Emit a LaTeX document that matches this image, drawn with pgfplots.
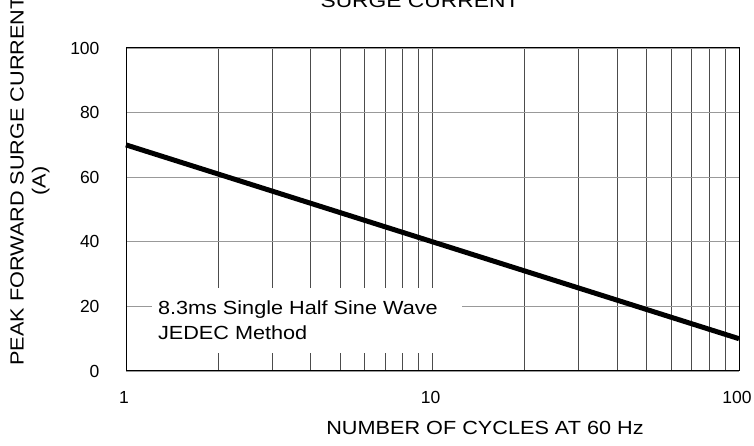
\documentclass[border=0pt]{standalone}
\usepackage{pgfplots}
\pgfplotsset{compat=1.18}
\usepackage{fontspec}
\setmainfont{Liberation Sans}
\newfontfamily\labelfont[FakeStretch=1.14]{Liberation Sans}
\newfontfamily\titlefont[FakeStretch=1.2]{Liberation Sans}

\begin{document}
\begin{tikzpicture}[font=\fontsize{17.5}{21}\selectfont]
\begin{axis}[
    scale only axis,
    width=613pt, height=323pt,
    xmode=log,
    xmin=1, xmax=100,
    ymin=0, ymax=100,
    xtick={1,10,100},
    xticklabels={1,10,100},
    minor xtick={2,3,4,5,6,7,8,9,20,30,40,50,60,70,80,90},
    ytick={0,20,40,60,80,100},
    major tick length=0pt,
    minor tick length=0pt,
    grid=both,
    xmajorgrids, xminorgrids, ymajorgrids,
    x grid style={black!70, line width=0.8pt},
    minor x grid style={black!70, line width=0.8pt},
    y grid style={black!40, line width=0.9pt},
    axis line style={black, line width=1pt},
    /pgf/number format/assume math mode=true,
    ticklabel style={font=\fontsize{17.5}{21}\selectfont},
    yticklabel style={xshift=-23pt},
    xticklabel style={yshift=-17pt, xshift=-2pt},
    clip=false,
]
\addplot[black, line width=5pt] coordinates {(1,70) (100,10)};
\fill[white] (axis cs:1.22,5.6) rectangle (axis cs:12.5,25.7);
\node[anchor=base west, inner sep=0pt, font=\labelfont\fontsize{19}{23}\selectfont] at (axis cs:1.27,17.6) {8.3ms Single Half Sine Wave};
\node[anchor=base west, inner sep=0pt, font=\labelfont\fontsize{19}{23}\selectfont] at (axis cs:1.27,9.9) {JEDEC Method};
\end{axis}
\node[anchor=base, font=\titlefont\fontsize{19}{23}\selectfont] at (294pt,363pt) {SURGE CURRENT};
\node[anchor=base, font=\labelfont\fontsize{19}{23}\selectfont] at (359pt,-64pt) {NUMBER OF CYCLES AT 60 Hz};
\node[rotate=90, align=center, font=\labelfont\fontsize{19}{22}\selectfont] at (-96pt,190pt) {PEAK FORWARD SURGE CURRENT\\(A)};
\pgfresetboundingbox
\useasboundingbox (-126pt,-75pt) rectangle (628pt,371pt);
\end{tikzpicture}
\end{document}
